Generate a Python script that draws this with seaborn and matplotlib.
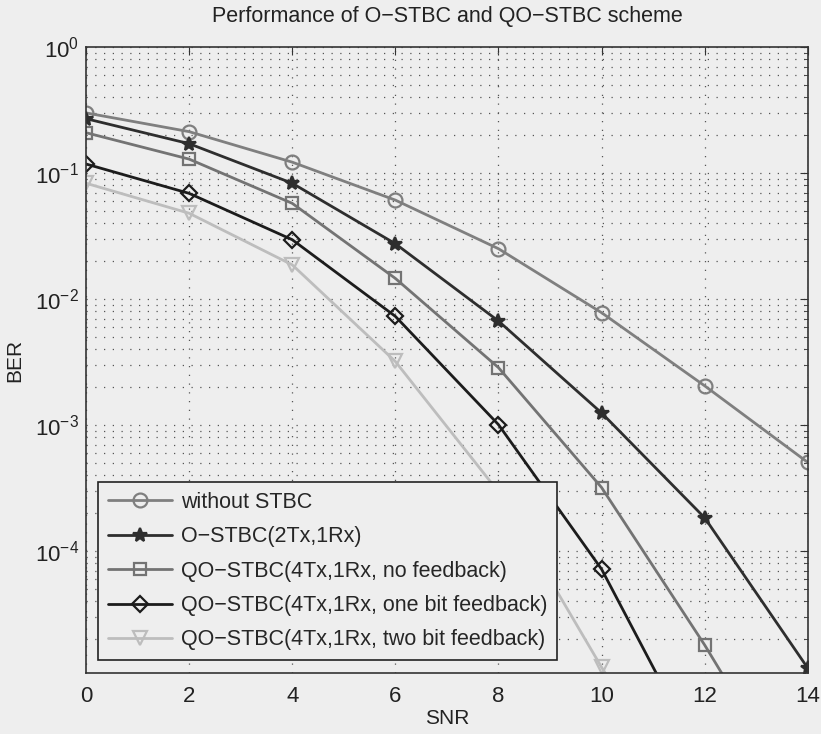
import matplotlib
matplotlib.use("Agg")
import matplotlib.pyplot as plt
import seaborn as sns
import numpy as np
import pandas as pd

snr = [0, 2, 4, 6, 8, 10, 12, 14]
without_stbc = [0.30, 0.213, 0.122, 0.061, 0.0251, 0.0078, 0.00205, 0.000506]
o_stbc = [0.27, 0.171, 0.083, 0.0275, 0.0067, 0.00125, 0.000184, 0.0000118]
qo_nofb = [0.209, 0.129, 0.0575, 0.0146, 0.00286, 0.00032, 0.000018, 0.0000008]
qo_onebit = [0.118, 0.069, 0.0296, 0.0073, 0.00101, 0.000072, 0.000002, None]
qo_twobit = [0.083, 0.048, 0.0187, 0.0032, 0.000296, 0.000012, 0.0000006, None]

labels = ["without STBC", "O\u2212STBC(2Tx,1Rx)", "QO\u2212STBC(4Tx,1Rx, no feedback)",
          "QO\u2212STBC(4Tx,1Rx, one bit feedback)", "QO\u2212STBC(4Tx,1Rx, two bit feedback)"]
series = [without_stbc, o_stbc, qo_nofb, qo_onebit, qo_twobit]
colors = ["#7f7f7f", "#2e2e2e", "#737373", "#1c1c1c", "#bdbdbd"]
markers = ["o", "*", "s", "D", "v"]
msizes = [10, 10, 9, 8, 10]

rows = []
for lab, vals in zip(labels, series):
    for x, v in zip(snr, vals):
        if v is not None:
            rows.append({"SNR": x, "BER": v, "scheme": lab})
df = pd.DataFrame(rows)

sns.set_style("white")
plt.rcParams['font.family'] = ['Liberation Sans', 'DejaVu Sans']
plt.rcParams['mathtext.fontset'] = 'custom'
plt.rcParams['mathtext.rm'] = 'Liberation Sans'
plt.rcParams['mathtext.it'] = 'Liberation Sans'

bg = "#eeeeee"
fig = plt.figure(figsize=(8.21, 7.34), dpi=100, facecolor=bg)
ax = fig.add_axes([0.1047, 0.083, 0.8793, 0.853])
ax.set_facecolor(bg)

for lab, c, m, ms in zip(labels, colors, markers, msizes):
    sub = df[df["scheme"] == lab]
    filled = (m == "*")
    sns.lineplot(data=sub, x="SNR", y="BER", ax=ax, color=c, marker=m,
                 markersize=ms,
                 markerfacecolor=c if filled else "none",
                 markeredgecolor=c, markeredgewidth=1.6, linewidth=2.0,
                 label=lab, estimator=None, sort=False)

ax.set_yscale("log")
ax.set_xlim(0, 14)
ax.set_ylim(1.08e-5, 1)
ax.set_xticks([0, 2, 4, 6, 8, 10, 12, 14])
ax.set_xticklabels(["0", "2", "4", "6", "8", "10", "12", "14"])

ax.grid(True, which="major", axis="both", linestyle=(0, (1, 6)), color="#555555", linewidth=0.9)
ax.grid(True, which="minor", axis="y", linestyle=(0, (1, 6)), color="#555555", linewidth=0.9)

for s in ax.spines.values():
    s.set_visible(True)
    s.set_color("#333333")
    s.set_linewidth(1.2)

ax.tick_params(axis="both", which="both", direction="in", top=True, right=True,
               labelsize=16, colors="#333333", labelcolor="#222222")
ax.tick_params(axis="both", which="major", length=6)
ax.tick_params(axis="y", which="minor", length=3)
ax.tick_params(axis="x", pad=9)
ax.tick_params(axis="y", pad=5)

ax.set_xlabel("SNR", fontsize=15, color="#222222", labelpad=2)
ax.set_ylabel("BER", fontsize=15, color="#222222")
ax.yaxis.set_label_coords(-0.085, 0.5)
ax.set_title("Performance of O\u2212STBC and QO\u2212STBC scheme", fontsize=15.5,
             color="#222222", pad=18)

leg = ax.legend(loc="lower left", bbox_to_anchor=(12/722, 13/626), borderaxespad=0,
                fontsize=15.5, frameon=True, fancybox=False, edgecolor="#222222",
                facecolor=bg, framealpha=1, handlelength=3.0, handletextpad=0.42,
                labelspacing=0.62, borderpad=0.45)
leg.get_frame().set_linewidth(1.2)

fig.savefig("out.png", dpi=100, facecolor=bg)
